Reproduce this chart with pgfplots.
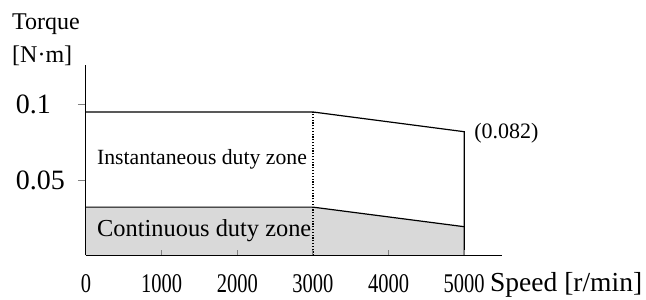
\documentclass[border=0pt]{standalone}
\usepackage{fontspec}
\setmainfont{Liberation Serif}
\newfontfamily\condensed{Liberation Serif}[FakeStretch=0.76]
\usepackage{pgfplots}
\pgfplotsset{compat=1.18}
\definecolor{zonegray}{RGB}{217,217,217}
\begin{document}
\begin{tikzpicture}[x=1pt,y=1pt]
\path[use as bounding box] (-86,-44.7) rectangle (560,255.3);
\begin{axis}[
  at={(0,0)}, anchor=south west,
  scale only axis, width=416pt, height=190.3pt,
  xmin=0, xmax=5500, ymin=0, ymax=0.1264,
  axis x line=bottom, axis y line=left,
  axis line style={-, line width=1pt},
  clip=false, axis on top,
  xtick={0,1000,2000,3000,4000,5000},
  xticklabels={0,1000,2000,3000,4000,5000},
  ytick={0.05,0.1},
  yticklabels={0.05,0.1},
  xtick align=inside, ytick align=outside,
  xtick style={line width=1pt, /pgfplots/major tick length=5pt},
  ytick style={line width=1pt, /pgfplots/major tick length=8pt},
  xticklabel style={font=\condensed\fontsize{27}{27}\selectfont, anchor=base, inner sep=0pt, yshift=-37pt},
  yticklabel style={font=\fontsize{28}{28}\selectfont, anchor=west, inner sep=0pt, xshift=-66pt},
]
\addplot[fill=zonegray, draw=none] coordinates {(0,0) (0,0.032) (3000,0.032) (5000,0.019) (5000,0)} -- cycle;
\addplot[black, line width=1.2pt] coordinates {(0,0.032) (3000,0.032) (5000,0.019)};
\addplot[black, line width=1.2pt] coordinates {(0,0.0952) (3000,0.0952) (5000,0.0821) (5000,0)};
\addplot[black, line width=1.2pt, dash pattern=on 1.2pt off 1.6pt] coordinates {(3000,0) (3000,0.0952)};
\node[anchor=base west, inner sep=0pt, font=\fontsize{21.7}{22}\selectfont] at (axis cs:145,0.0600) {Instantaneous duty zone};
\node[anchor=base west, inner sep=0pt, font=\fontsize{24.4}{25}\selectfont] at (axis cs:145,0.0122) {Continuous duty zone};
\node[anchor=base west, inner sep=0pt, font=\fontsize{22}{22}\selectfont] at (axis cs:5132,0.0779) {(0.082)};
\end{axis}
\node[anchor=base west, inner sep=0pt, font=\fontsize{27.5}{28}\selectfont] at (404,-36) {Speed [r/min]};
\node[anchor=base west, inner sep=0pt, font=\fontsize{24}{24}\selectfont] at (-74,225.3) {Torque};
\node[anchor=base west, inner sep=0pt, font=\fontsize{24}{24}\selectfont] at (-74,192.3) {[N·m]};
\end{tikzpicture}
\end{document}
